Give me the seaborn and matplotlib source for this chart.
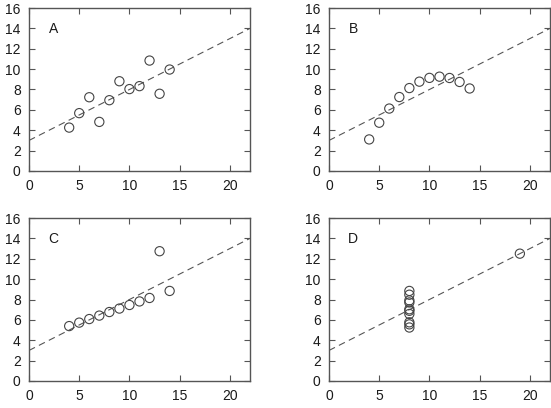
import matplotlib
matplotlib.use("Agg")
import matplotlib.pyplot as plt
import seaborn as sns
import numpy as np
import pandas as pd

x123 = [10, 8, 13, 9, 11, 14, 6, 4, 12, 7, 5]
x4 = [8, 8, 8, 8, 8, 8, 8, 19, 8, 8, 8]
yA = [8.04, 6.95, 7.58, 8.81, 8.33, 9.96, 7.24, 4.26, 10.84, 4.82, 5.68]
yB = [9.14, 8.14, 8.74, 8.77, 9.26, 8.10, 6.13, 3.10, 9.13, 7.26, 4.74]
yC = [7.46, 6.77, 12.74, 7.11, 7.81, 8.84, 6.08, 5.39, 8.15, 6.42, 5.73]
yD = [6.58, 5.76, 7.71, 8.84, 8.47, 7.04, 5.25, 12.50, 5.56, 7.91, 6.89]
panel_labels = ["A", "B", "C", "D"]
fit_x = [0, 22]
fit_intercept = 3.0
fit_slope = 0.5
xticks = [0, 5, 10, 15, 20]
yticks = [0, 2, 4, 6, 8, 10, 12, 14, 16]

sns.set_style("ticks")
plt.rcParams['font.family'] = ['Liberation Sans', 'DejaVu Sans']

fig = plt.figure(figsize=(5.51, 4.08), dpi=100)
w = 221 / 551
h = 163 / 408
positions = [
    (29 / 551, (408 - 171) / 408),
    (329 / 551, (408 - 171) / 408),
    (29 / 551, (408 - 381) / 408),
    (329 / 551, (408 - 381) / 408),
]
data = [(x123, yA), (x123, yB), (x123, yC), (x4, yD)]
frame_col = "#555555"
for (l, b), (xs, ys), lab in zip(positions, data, panel_labels):
    ax = fig.add_axes([l, b, w, h])
    fx = np.array(fit_x, dtype=float)
    line_df = pd.DataFrame({"x": fx, "y": fit_intercept + fit_slope * fx})
    sns.lineplot(data=line_df, x="x", y="y", ax=ax, color="#555555",
                 linewidth=0.8, dashes=False, linestyle=(0, (6, 4)))
    df = pd.DataFrame({"x": xs, "y": ys})
    sns.scatterplot(data=df, x="x", y="y", ax=ax, marker="o", s=44,
                    facecolor="none", edgecolor="#444444", linewidth=0.8, zorder=3)
    ax.set_xlim(0, 22)
    ax.set_ylim(0, 16)
    ax.set_xticks(xticks)
    ax.set_yticks(yticks)
    ax.set_xlabel("")
    ax.set_ylabel("")
    ax.tick_params(direction="in", top=True, right=True, length=4, width=0.8,
                   color=frame_col, labelsize=10, pad=6, labelcolor="#1a1a1a")
    for s in ax.spines.values():
        s.set_color(frame_col)
        s.set_linewidth(1.0)
    ax.text(2.4, 13.9, lab, fontsize=10, ha="center", va="center", color="#1a1a1a")

fig.savefig("out.png", dpi=100)
